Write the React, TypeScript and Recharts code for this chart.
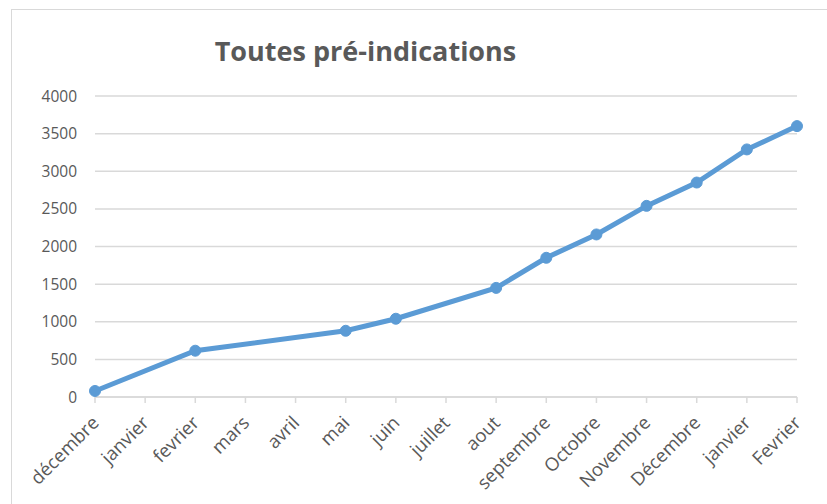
import { LineChart, Line, XAxis, YAxis, CartesianGrid } from "recharts";

const months = [
  "décembre", "janvier", "fevrier", "mars", "avril", "mai", "juin", "juillet",
  "aout", "septembre", "Octobre", "Novembre", "Décembre", "janvier", "Fevrier",
];
const counts: (number | null)[] = [
  80, null, 615, null, null, 880, 1040, null,
  1450, 1850, 2160, 2540, 2850, 3290, 3600,
];
const yTicks = [0, 500, 1000, 1500, 2000, 2500, 3000, 3500, 4000];

const data = months.map((m, i) => ({ id: i, month: m, value: counts[i] }));

const MonthTick = (props: any) => {
  const { x, y, payload } = props;
  return (
    <g transform={`translate(${x + 5},${y + 19}) rotate(-45)`}>
      <text textAnchor="end" fill="#595959" fontSize={18.5} fontFamily="Open Sans">
        {months[payload.value]}
      </text>
    </g>
  );
};

export default function App() {
  return (
    <div style={{ position: "absolute", left: 0, top: 0, width: 827, height: 504, background: "#fff", overflow: "hidden" }}>
      <div style={{ position: "absolute", left: 11, top: 9, width: 830, height: 510, border: "1.5px solid #d9d9d9" }} />
      <div
        style={{
          position: "absolute", left: 0, width: 731, top: 32, textAlign: "center",
          fontFamily: "Open Sans", fontWeight: 700, fontSize: 27, color: "#595959",
          lineHeight: "normal",
        }}
      >
        Toutes pré-indications
      </div>
      <div style={{ position: "absolute", left: 0, top: 0 }}>
        <LineChart width={827} height={504} data={data} margin={{ top: 96, right: 30, bottom: 17, left: 0 }}>
          <CartesianGrid vertical={false} stroke="#d9d9d9" strokeWidth={1.5} />
          <XAxis
            dataKey="id"
            type="category"
            interval={0}
            height={90}
            tick={<MonthTick />}
            axisLine={{ stroke: "#d9d9d9", strokeWidth: 1.5 }}
            tickLine={{ stroke: "#d9d9d9", strokeWidth: 1.5 }}
            tickSize={6}
            padding={{ left: 0, right: 0 }}
          />
          <YAxis
            width={95}
            domain={[0, 4000]}
            ticks={yTicks}
            axisLine={false}
            tickLine={false}
            tickSize={0}
            tickMargin={18}
            tick={{ fill: "#595959", fontSize: 15.5, fontFamily: "Open Sans" }}
          />
          <Line
            dataKey="value"
            stroke="#5B9BD5"
            strokeWidth={5}
            connectNulls
            dot={{ r: 5.5, fill: "#5B9BD5", stroke: "#5B9BD5", strokeWidth: 1 }}
            isAnimationActive={false}
          />
        </LineChart>
      </div>
    </div>
  );
}
